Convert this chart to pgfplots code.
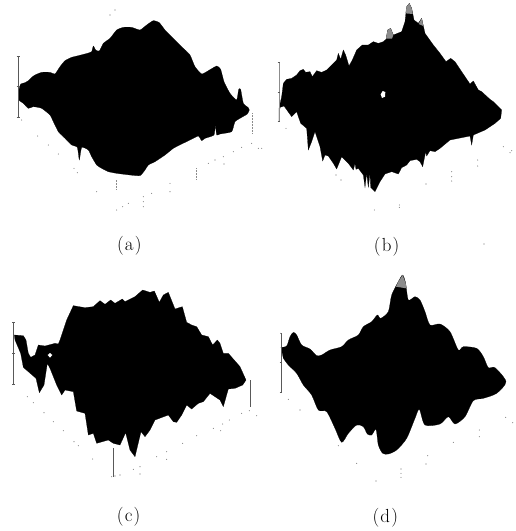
\documentclass[border=0pt]{standalone}
\usepackage{pgfplots}
\pgfplotsset{compat=1.18}
\definecolor{Bar}{gray}{0.35}
\definecolor{Speck}{gray}{0.55}
\definecolor{Stip}{gray}{0.55}
% every panel is an axis in its own coordinates, 3 units to the pixel
\pgfplotsset{panel/.style={
    scale only axis,
    hide axis,
    clip=false,
    anchor=north west,
    xmin=0,xmax=780,
    ymin=0,ymax=780,
    width=260bp,height=260bp,
    y dir=reverse},
  surf/.style={fill=black,draw=black,line width=0.2pt},
  bar/.style={Bar,line width=0.6pt,forget plot},
  specks/.style={only marks,mark=*,mark size=0.3pt,mark options={draw=Speck,fill=Speck}}}
\newcommand{\lab}[1]{\fontsize{19}{19}\selectfont (\kern1.2pt#1\kern1.2pt)}
\begin{document}
\begin{tikzpicture}
\path[use as bounding box] (0,0) rectangle (516bp,-531bp);

% (a)
\begin{axis}[panel,at={(0bp,-10bp)}]
\addplot[surf,smooth,tension=0.3] coordinates {
 (55,250)(58,235)(62,222)(75,218)(85,212)(95,202)(105,195)(125,187)(150,187)(165,192)(180,170)(195,152)
 (215,142)(235,137)(262,130)(275,125)(280,108)(287,120)(298,123)(310,100)(330,85)(350,60)
 (370,52)(395,52)(420,60)(440,45)(460,32)(478,38)(495,60)(520,85)(550,115)(570,135)
 (585,170)(605,192)(625,182)(650,168)(662,178)(672,215)(690,250)(710,270)(716,238)(722,238)
 (730,280)(745,293)(748,300)(742,312)(725,322)(705,335)(695,365)(660,372)(650,375)(646,345)
 (642,375)(615,385)(605,392)(595,378)(570,390)(545,402)(520,415)(495,435)(465,455)(445,465)
 (435,480)(420,497)(390,495)(350,490)(325,485)(305,475)(290,465)(275,440)(265,420)(245,412)
 (238,450)(232,412)(215,405)(195,385)(175,365)(160,335)(150,315)(125,295)(100,290)(85,295)
 (70,280)(58,272)} --cycle;
\addplot[bar] coordinates {(55,140)(55,322)};
\addplot[bar] coordinates {(50,140)(60,140)};
\addplot[bar] coordinates {(50,230)(60,230)};
\addplot[bar] coordinates {(50,322)(60,322)};
\addplot[Speck,densely dotted,line width=0.5pt] coordinates {(757,310)(757,372)};
\addplot[Speck,densely dotted,line width=0.5pt] coordinates {(350,510)(350,540)};
\addplot[Speck,densely dotted,line width=0.5pt] coordinates {(590,475)(590,510)};
\addplot[specks] coordinates {
 (65,330)(113,378)(145,405)(175,432)(222,475)(232,488)(290,545)(350,600)(368,590)(385,580)
 (430,560)(430,575)(430,590)(455,550)(510,520)(510,545)(625,460)(645,450)(670,440)(672,462)
 (700,425)(725,412)(755,400)(775,415)(330,15)(345,0)};
\node at (axis cs:388,708) {\lab{a}};
\end{axis}

% (b)
\begin{axis}[panel,at={(260bp,0bp)}]
\addplot[surf] coordinates {
 (57,365)(57,325)(65,290)(70,250)(80,238)(95,235)(110,225)(120,212)(130,208)(137,217)
 (150,215)(157,230)(170,212)(185,217)(200,210)(215,195)(230,180)(235,160)(242,178)(250,150)
 (257,165)(267,198)(277,180)(290,150)(307,135)(325,135)(340,125)(355,130)(370,125)(378,118)
 (383,90)(392,85)(400,105)(425,95)(435,65)(440,20)(448,10)(455,25)(462,60)(475,70)
 (485,55)(495,100)(520,135)(540,160)(558,185)(572,175)(585,185)(605,215)(630,252)(640,243)
 (655,270)(665,275)(690,298)(700,305)(725,330)(722,355)(705,370)(675,390)(640,405)(635,435)
 (630,408)(595,415)(570,420)(540,445)(525,455)(510,452)(500,468)(497,455)(488,500)(480,485)
 (470,478)(450,482)(440,495)(425,503)(415,522)(395,515)(375,522)(360,545)(345,575)(332,562)
 (330,520)(325,562)(320,520)(315,562)(310,525)(295,505)(288,508)(285,490)(280,510)(265,490)
 (245,470)(230,507)(220,490)(205,468)(195,465)(188,483)(180,440)(165,395)(155,425)(145,450)
 (140,385)(122,370)(110,335)(95,350)(72,318)(60,322)} --cycle;
\addplot[fill=Stip,draw=none] coordinates {(436,40)(440,20)(448,10)(455,25)(458,42)} --cycle;
\addplot[fill=Stip,draw=none] coordinates {(378,116)(383,90)(392,85)(400,105)(396,116)} --cycle;
\addplot[fill=Stip,draw=none] coordinates {(476,72)(485,55)(490,78)} --cycle;
\addplot[fill=white,draw=none] coordinates {(362,283)(368,273)(376,276)(375,290)(366,294)} --cycle;
\addplot[bar,Stip] coordinates {(57,187)(57,365)};
\addplot[bar] coordinates {(53,187)(60,187)};
\addplot[bar] coordinates {(53,276)(60,276)};
\addplot[bar] coordinates {(53,365)(60,365)};
\addplot[specks] coordinates {
 (78,385)(5,445)(228,525)(243,540)(343,630)(418,615)(418,622)(498,552)(575,515)(575,530)
 (575,543)(653,480)(653,498)(730,440)(750,458)(755,452)(672,732)};
\node at (axis cs:380,740) {\lab{b}};
\end{axis}

% (c)
\begin{axis}[panel,at={(0bp,-270bp)}]
\addplot[surf] coordinates {
 (43,195)(70,197)(78,210)(85,250)(92,262)(105,255)(115,225)(135,228)(165,220)(175,222)
 (180,210)(200,150)(220,107)(255,113)(280,110)(300,92)(315,103)(332,90)(345,100)(367,87)
 (375,95)(385,90)(405,80)(428,60)(450,67)(463,63)(478,97)(490,75)(505,67)(525,117)
 (547,110)(560,157)(575,165)(590,170)(605,195)(625,200)(638,225)(652,210)(660,220)(670,250)
 (685,250)(720,290)(738,330)(728,345)(705,355)(685,357)(670,410)(660,390)(630,370)(610,395)
 (595,400)(575,417)(560,405)(545,435)(530,457)(520,455)(505,435)(465,450)(450,480)(435,500)
 (423,485)(405,560)(390,540)(377,488)(360,525)(340,520)(325,510)(290,520)(280,490)(265,495)
 (255,430)(230,423)(220,365)(195,360)(185,375)(170,345)(150,295)(142,280)(132,345)(118,368)
 (108,325)(70,292)(62,250)(45,210)} --cycle;
\addplot[fill=white,draw=none] coordinates {(143,255)(150,249)(157,255)(150,263)} --cycle;
\addplot[bar] coordinates {(40,158)(40,343)};
\addplot[bar] coordinates {(36,158)(44,158)};
\addplot[bar] coordinates {(36,250)(44,250)};
\addplot[bar] coordinates {(36,343)(44,343)};
\addplot[bar] coordinates {(751,330)(751,412)};
\addplot[bar] coordinates {(340,535)(340,620)};
\addplot[specks] coordinates {
 (82,380)(100,398)(132,428)(160,455)(190,482)(222,515)(235,527)(278,567)(335,620)(345,618)
 (360,615)(400,598)(420,590)(420,612)(470,560)(500,545)(500,568)(548,520)(590,497)(640,475)
 (662,482)(668,462)(688,450)(725,430)(748,422)(770,437)};
\node at (axis cs:386,740) {\lab{c}};
\end{axis}

% (d)
\begin{axis}[panel,at={(260bp,-270bp)}]
\addplot[surf,smooth,tension=0.45] coordinates {
 (63,232)(80,228)(90,200)(100,187)(110,195)(125,225)(150,237)(170,257)(185,255)(210,240)
 (245,230)(265,210)(295,195)(310,170)(335,155)(352,135)(362,145)(385,125)(395,75)(415,35)
 (428,15)(437,40)(445,90)(465,80)(480,90)(495,125)(510,165)(540,162)(570,185)(595,240)
 (610,230)(650,235)(670,260)(685,293)(705,293)(738,335)(710,370)(670,385)(640,392)(615,440)
 (585,462)(565,440)(540,462)(495,465)(478,418)(465,445)(440,505)(410,540)(385,552)(368,550)
 (355,525)(348,478)(335,495)(322,492)(310,470)(290,465)(265,490)(245,517)(225,475)(200,425)
 (175,420)(155,375)(130,345)(110,310)(85,285)(70,265)} --cycle;
\addplot[fill=Stip,draw=none] coordinates {(408,50)(415,35)(428,15)(437,40)(439,55)} --cycle;
\addplot[bar] coordinates {(63,190)(63,367)};
\addplot[bar] coordinates {(59,277)(67,277)};
\addplot[bar] coordinates {(59,367)(67,367)};
\addplot[specks] coordinates {
 (62,190)(85,388)(120,420)(235,527)(290,580)(348,633)(423,597)(423,610)(423,622)(503,557)
 (498,582)(580,517)(658,480)(658,500)(737,442)(758,458)};
\node at (axis cs:376,742) {\lab{d}};
\end{axis}
\end{tikzpicture}
\end{document}
